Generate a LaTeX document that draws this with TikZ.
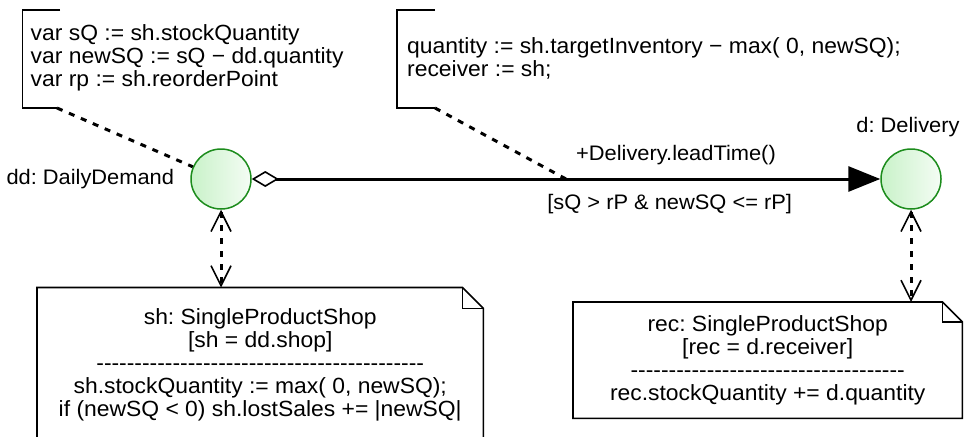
\documentclass[tikz,border=0pt]{standalone}
\usepackage{fontspec}
\setmainfont{Liberation Sans}[FakeStretch=1.04]
\usetikzlibrary{arrows.meta, positioning}
\definecolor{actline}{HTML}{1C8C1C}
\definecolor{actfill}{HTML}{C9F2C9}
\newcommand\seprule[1]{\foreach \k in {1,...,#1}{-\kern0pt}}
\tikzset{
  every picture/.style={line join=miter},
  lbl/.style={font=\fontsize{21}{23}\selectfont\frenchspacing, inner sep=0pt},
  txt/.style={font=\fontsize{22}{23}\selectfont\frenchspacing, inner sep=0pt},
  obj/.style={circle, draw=actline, line width=1.5pt, minimum size=60pt,
    inner sep=0pt, left color=actfill, right color=actfill!20},
  notebox/.style={rectangle, inner sep=0pt, anchor=north west},
  fold/.style={draw, line width=1.6pt},
  bracket/.style={draw, line width=1.6pt},
  link/.style={draw, line width=3pt, dash pattern=on 6pt off 7pt},
  bind/.style={link, {Straight Barb[length=20pt, width=20pt, line width=1.6pt]}-{Straight Barb[length=20pt, width=20pt, line width=1.6pt]}},
  assoc/.style={draw, line width=3pt,
    {Diamond[open, fill=white, length=27pt, width=16pt, line width=1.6pt]}-{Triangle[length=32pt, width=25pt]}},
}

\begin{document}
\begin{tikzpicture}[x=1pt, y=-1pt]
\useasboundingbox (0,0) rectangle (965,436);

% ---- Objects of the event rule
\node[obj] (dd) at (221,179) {};
\node[obj] (d)  at (911,179) {};
\node[lbl, left=16pt of dd] (ddname) {dd: DailyDemand};
\node[lbl, above=11pt of d, xshift=-3pt] (dname) {d: Delivery};

% ---- Caused event, with its delay and condition
\draw[assoc] (dd) -- coordinate[pos=0.5] (cond)
  node[lbl, above=13pt, pos=0.675] (delay) {+Delivery.leadTime()}
  node[lbl, below=14pt, pos=0.665] (guard) {[sQ > rP \& newSQ <= rP]} (d);

% ---- Rule variables (left) and slots of the new event (right)
\node[txt, anchor=north west, align=left] (vars) at (30.5,24) {var sQ := sh.stockQuantity\\
  var newSQ := sQ − dd.quantity\\var rp := sh.reorderPoint};
\draw[bracket] (60,10) -- (22.5,10) -- (22.5,108) -- (57,108) coordinate (varsTail);
\draw[link] (varsTail) -- (dd);

\node[txt, anchor=north west, align=left] (slots) at (407,37) {quantity := sh.targetInventory − max( 0, newSQ);\\
  receiver := sh;};
\draw[bracket] (435,10) -- (397,10) -- (397,108) -- (435,108) coordinate (slotsTail);
\draw[link] (slotsTail) -- (cond);

% ---- State changes of the shops
\node[notebox, minimum width=446pt, minimum height=170pt] (shbox) at (37,287.5) {};
\node[txt, align=center, below=20.5pt of shbox.north] (shtxt) {sh: SingleProductShop\\
  {[sh = dd.shop]}\\\seprule{43}\\sh.stockQuantity := max( 0, newSQ);\\
  if (newSQ < 0) sh.lostSales += |newSQ|};
\draw[fold] (shbox.north west) -- ([xshift=-21pt]shbox.north east)
  -- ([yshift=-21pt]shbox.north east) -- (shbox.south east) -- (shbox.south west) -- cycle;
\draw[fold] ([xshift=-21pt]shbox.north east) |- ([yshift=-21pt]shbox.north east);

\node[notebox, txt, minimum width=389pt, minimum height=116pt, align=center]
  (recbox) at (573,302) {rec: SingleProductShop\\{[rec = d.receiver]}\\\seprule{36}\\
  rec.stockQuantity += d.quantity};
\draw[fold] (recbox.north west) -- ([xshift=-20pt]recbox.north east)
  -- ([yshift=-20pt]recbox.north east) -- (recbox.south east) -- (recbox.south west) -- cycle;
\draw[fold] ([xshift=-20pt]recbox.north east) |- ([yshift=-20pt]recbox.north east);

\draw[bind] (dd) -- (dd |- shbox.north);
\draw[bind] (d) -- (d |- recbox.north);

\end{tikzpicture}
\end{document}
